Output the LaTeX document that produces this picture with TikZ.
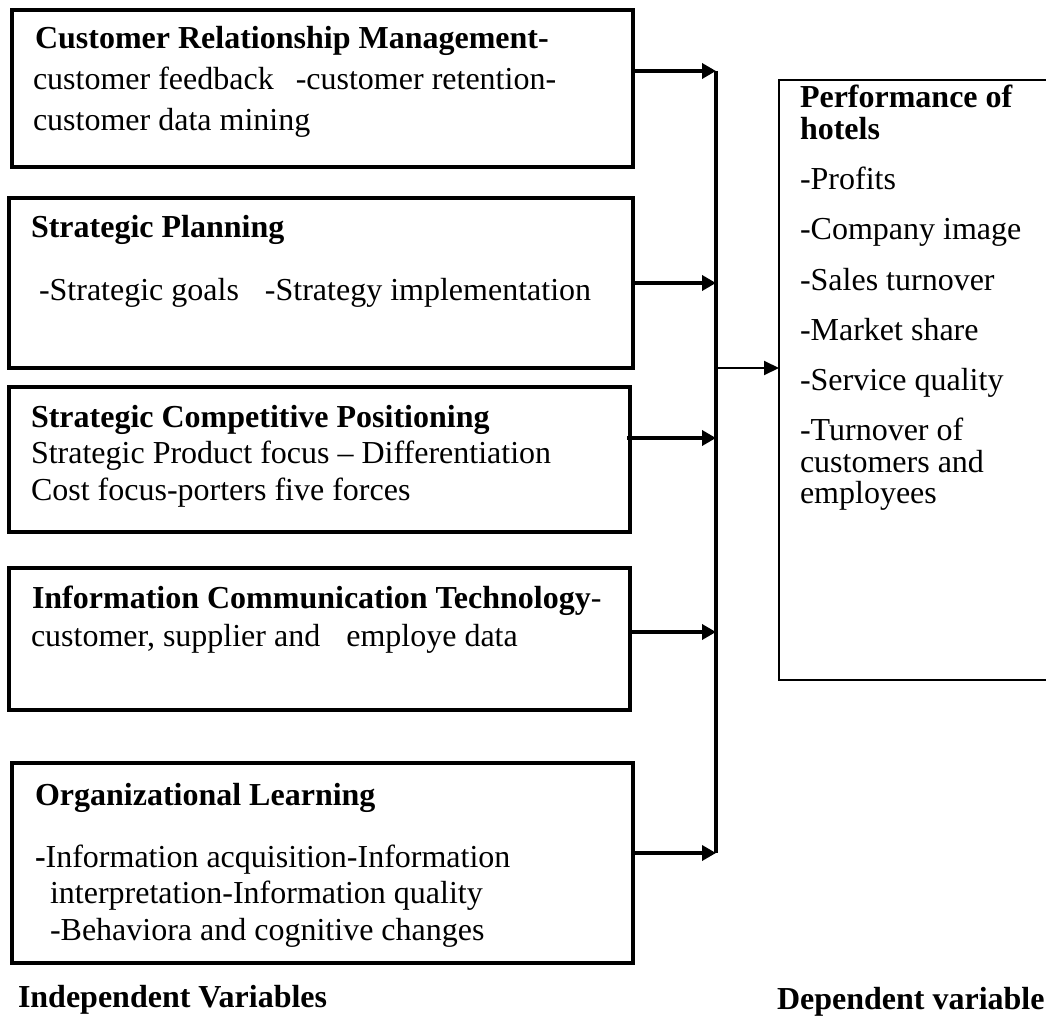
\documentclass[tikz,border=0pt]{standalone}
\usepackage{fontspec}
\setmainfont{Liberation Serif}
\usetikzlibrary{arrows.meta}
\begin{document}
\begin{tikzpicture}[x=1pt,y=-1pt,
  box/.style={draw, line width=3.5pt, inner sep=0pt, outer sep=0pt},
  panel/.style={inner sep=0pt, outer sep=0pt},
  txt/.style={anchor=base west, inner sep=0pt, outer sep=0pt, font=\fontsize{32}{38}\selectfont},
  bus/.style={line width=4pt},
  feed/.style={line width=3.5pt, -{Triangle[length=14pt,width=15pt]}},
  into/.style={line width=2pt, -{Triangle[length=15pt,width=14pt]}}]
\useasboundingbox (0,0) rectangle (1046,1016);

% independent-variable boxes
\node[box, minimum width=621pt, minimum height=157pt] (b1) at (322.5,88.5) {};
\node[box, minimum width=624pt, minimum height=170pt] (b2) at (321,283) {};
\node[box, minimum width=621pt, minimum height=145pt] (b3) at (319.5,459.5) {};
\node[box, minimum width=621pt, minimum height=142pt] (b4) at (319.5,639) {};
\node[box, minimum width=621pt, minimum height=200pt] (b5) at (322.5,863) {};

% dependent-variable panel (right side runs off the page)
\node[panel, minimum width=267pt, minimum height=600pt] (perf) at (912.5,380) {};
\draw[line width=1.5pt] (perf.north east) -- (perf.north west) -- (perf.south west) -- (perf.south east);

% texts of the boxes
\node[txt] (t1a) at (35,49) {\textbf{Customer Relationship Management-}};
\node[txt] (t1b) at (33,90) {customer feedback\hspace{22pt}-customer retention-};
\node[txt] (t1c) at (33,131) {customer data mining};

\node[txt] (t2a) at (31,238) {\textbf{Strategic Planning}};
\node[txt] (t2b) at (39,300) {-Strategic goals\hspace{26pt}-Strategy implementation};

\node[txt] (t3a) at (31,427) {\textbf{Strategic Competitive Positioning}};
\node[txt] (t3b) at (31,463) {Strategic Product focus – Differentiation};
\node[txt] (t3c) at (31,500) {Cost focus-porters five forces};

\node[txt] (t4a) at (32,608) {\textbf{Information Communication Technology}-};
\node[txt] (t4b) at (31,646) {customer, supplier and\hspace{26pt}employe data};

\node[txt] (t5a) at (35,805) {\textbf{Organizational Learning}};
\node[txt] (t5b) at (35,867) {\textbf{-}Information acquisition-Information};
\node[txt] (t5c) at (50,903) {interpretation-Information quality};
\node[txt] (t5d) at (50,940) {-Behaviora and cognitive changes};

% texts of the panel
\node[txt] (p1) at (800,108) {\textbf{Performance of}};
\node[txt] (p2) at (800,140) {\textbf{hotels}};
\node[txt] (p3) at (800,190) {-Profits};
\node[txt] (p4) at (800,240) {-Company image};
\node[txt] (p5) at (800,290) {-Sales turnover};
\node[txt] (p6) at (800,340) {-Market share};
\node[txt] (p7) at (800,390) {-Service quality};
\node[txt] (p8) at (800,440) {-Turnover of};
\node[txt] (p9) at (800,472) {customers and};
\node[txt] (p10) at (800,503) {employees};

% captions
\node[txt] (lind) at (18,1007) {\textbf{Independent Variables}};
\node[txt] (ldep) at (777,1009) {\textbf{Dependent variable}};

% collecting bus
\coordinate (busTop) at (716,71);
\coordinate (busBot) at (716,853);
\draw[bus] (busTop) -- (busBot);

% feeds from each box into the bus
\coordinate (o1) at ([yshift=17.5pt]b1.east);
\coordinate (o2) at (b2.east);
\coordinate (o3) at ([yshift=21.5pt,xshift=-3pt]b3.east);
\coordinate (o4) at ([yshift=7pt]b4.east);
\coordinate (o5) at ([yshift=10pt]b5.east);
\foreach \o in {o1,o2,o3,o4,o5}
  \draw[feed] (\o) -- (\o -| busTop);

% bus into the panel
\coordinate (inP) at ([yshift=12pt]perf.west);
\draw[into] (inP -| busTop) -- (inP);
\end{tikzpicture}
\end{document}
